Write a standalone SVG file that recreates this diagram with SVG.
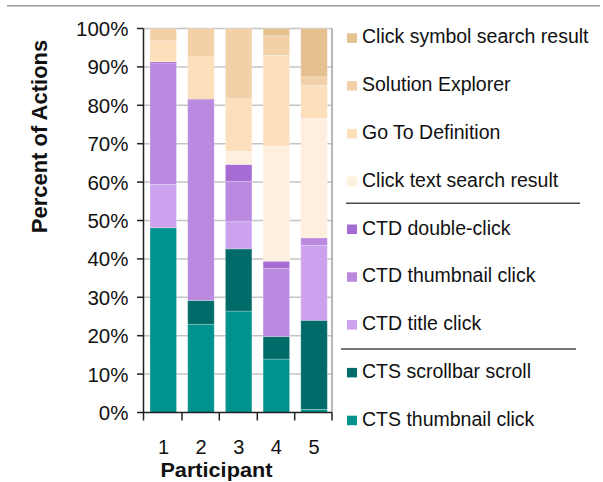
<svg xmlns="http://www.w3.org/2000/svg" width="603" height="482" viewBox="0 0 603 482">
<style>
text{font-family:"Liberation Sans",Arial,sans-serif;fill:#111}
.yl{font-size:20.5px;text-anchor:end}
.xl{font-size:20px;text-anchor:middle}
.lg{font-size:19.5px}
.grid{stroke:#C4C4C4;stroke-width:1.5}
.ax{stroke:#222;stroke-width:1.5}
.sep{stroke:#4a4a4a;stroke-width:1.5}
rect.s{stroke:#fff;stroke-opacity:0.3;stroke-width:0.8}
.c1{fill:#00928F}.c2{fill:#006B68}.c3{fill:#CCA2EE}.c4{fill:#B98AE0}.c5{fill:#A66CD4}
.c6{fill:#FEEFDF}.c7{fill:#FDDFBB}.c8{fill:#F2D1A8}.c9{fill:#E5C18F}
</style>
<rect width="603" height="482" fill="#fff"/>
<line x1="7" y1="5.7" x2="600" y2="5.7" stroke="#999" stroke-width="1.5"/>
<g id="grid">
<line class="grid" x1="143.5" y1="28.5" x2="332" y2="28.5"/>
<line class="grid" x1="143.5" y1="66.9" x2="332" y2="66.9"/>
<line class="grid" x1="143.5" y1="105.3" x2="332" y2="105.3"/>
<line class="grid" x1="143.5" y1="143.7" x2="332" y2="143.7"/>
<line class="grid" x1="143.5" y1="182.1" x2="332" y2="182.1"/>
<line class="grid" x1="143.5" y1="220.5" x2="332" y2="220.5"/>
<line class="grid" x1="143.5" y1="258.9" x2="332" y2="258.9"/>
<line class="grid" x1="143.5" y1="297.3" x2="332" y2="297.3"/>
<line class="grid" x1="143.5" y1="335.7" x2="332" y2="335.7"/>
<line class="grid" x1="143.5" y1="374.1" x2="332" y2="374.1"/>
<line x1="332" y1="28.5" x2="332" y2="412.5" stroke="#A0A0A0" stroke-width="1.5"/>
</g>
<g id="bar1">
<rect class="s c1" x="150" y="227.8" width="26.5" height="184.7"/>
<rect class="s c3" x="150" y="184.4" width="26.5" height="43.4"/>
<rect class="s c4" x="150" y="63.1" width="26.5" height="121.3"/>
<rect class="c5" x="150" y="61.9" width="26.5" height="1.2"/>
<rect class="s c7" x="150" y="40.8" width="26.5" height="21.1"/>
<rect class="s c8" x="150" y="28.5" width="26.5" height="12.3"/>
</g>
<g id="bar2">
<rect class="s c1" x="187.7" y="324.2" width="26.5" height="88.3"/>
<rect class="s c2" x="187.7" y="300.4" width="26.5" height="23.8"/>
<rect class="s c4" x="187.7" y="100.7" width="26.5" height="199.7"/>
<rect class="c5" x="187.7" y="99.2" width="26.5" height="1.5"/>
<rect class="s c7" x="187.7" y="56.9" width="26.5" height="42.3"/>
<rect class="s c8" x="187.7" y="28.5" width="26.5" height="28.4"/>
</g>
<g id="bar3">
<rect class="s c1" x="225.4" y="311.1" width="26.5" height="101.4"/>
<rect class="s c2" x="225.4" y="248.9" width="26.5" height="62.2"/>
<rect class="s c3" x="225.4" y="221.7" width="26.5" height="27.2"/>
<rect class="s c4" x="225.4" y="181.3" width="26.5" height="40.4"/>
<rect class="s c5" x="225.4" y="164.4" width="26.5" height="16.9"/>
<rect class="s c6" x="225.4" y="151.4" width="26.5" height="13"/>
<rect class="s c7" x="225.4" y="98.8" width="26.5" height="52.6"/>
<rect class="s c8" x="225.4" y="28.5" width="26.5" height="70.3"/>
</g>
<g id="bar4">
<rect class="s c1" x="263.1" y="359.1" width="26.5" height="53.4"/>
<rect class="s c2" x="263.1" y="336.5" width="26.5" height="22.6"/>
<rect class="s c4" x="263.1" y="268.5" width="26.5" height="68"/>
<rect class="s c5" x="263.1" y="261.2" width="26.5" height="7.3"/>
<rect class="s c6" x="263.1" y="146" width="26.5" height="115.2"/>
<rect class="s c7" x="263.1" y="55.4" width="26.5" height="90.6"/>
<rect class="s c8" x="263.1" y="35.8" width="26.5" height="19.6"/>
<rect class="s c9" x="263.1" y="28.5" width="26.5" height="7.3"/>
</g>
<g id="bar5">
<rect class="s c1" x="300.8" y="409.4" width="26.5" height="3.1"/>
<rect class="s c2" x="300.8" y="320.3" width="26.5" height="89.1"/>
<rect class="s c3" x="300.8" y="245.5" width="26.5" height="74.8"/>
<rect class="s c4" x="300.8" y="237.8" width="26.5" height="7.7"/>
<rect class="s c6" x="300.8" y="118.4" width="26.5" height="119.4"/>
<rect class="s c7" x="300.8" y="85.3" width="26.5" height="33.1"/>
<rect class="s c8" x="300.8" y="76.9" width="26.5" height="8.4"/>
<rect class="s c9" x="300.8" y="28.5" width="26.5" height="48.4"/>
</g>
<g id="axes">
<line class="ax" x1="143.5" y1="28.5" x2="143.5" y2="420.5"/>
<line class="ax" x1="137" y1="412.5" x2="332" y2="412.5"/>
<line class="ax" x1="137" y1="28.5" x2="143.5" y2="28.5"/>
<line class="ax" x1="137" y1="66.9" x2="143.5" y2="66.9"/>
<line class="ax" x1="137" y1="105.3" x2="143.5" y2="105.3"/>
<line class="ax" x1="137" y1="143.7" x2="143.5" y2="143.7"/>
<line class="ax" x1="137" y1="182.1" x2="143.5" y2="182.1"/>
<line class="ax" x1="137" y1="220.5" x2="143.5" y2="220.5"/>
<line class="ax" x1="137" y1="258.9" x2="143.5" y2="258.9"/>
<line class="ax" x1="137" y1="297.3" x2="143.5" y2="297.3"/>
<line class="ax" x1="137" y1="335.7" x2="143.5" y2="335.7"/>
<line class="ax" x1="137" y1="374.1" x2="143.5" y2="374.1"/>
<line class="ax" x1="182" y1="412.5" x2="182" y2="420.5"/>
<line class="ax" x1="219.3" y1="412.5" x2="219.3" y2="420.5"/>
<line class="ax" x1="257.3" y1="412.5" x2="257.3" y2="420.5"/>
<line class="ax" x1="294.7" y1="412.5" x2="294.7" y2="420.5"/>
<line class="ax" x1="332" y1="412.5" x2="332" y2="420.5"/>
</g>
<g id="ylabels">
<text class="yl" x="128.5" y="36">100%</text>
<text class="yl" x="128.5" y="74.4">90%</text>
<text class="yl" x="128.5" y="112.8">80%</text>
<text class="yl" x="128.5" y="151.2">70%</text>
<text class="yl" x="128.5" y="189.6">60%</text>
<text class="yl" x="128.5" y="228">50%</text>
<text class="yl" x="128.5" y="266.4">40%</text>
<text class="yl" x="128.5" y="304.8">30%</text>
<text class="yl" x="128.5" y="343.2">20%</text>
<text class="yl" x="128.5" y="381.6">10%</text>
<text class="yl" x="128.5" y="420">0%</text>
</g>
<g id="xlabels">
<text class="xl" x="163.5" y="454">1</text>
<text class="xl" x="201" y="454">2</text>
<text class="xl" x="238.7" y="454">3</text>
<text class="xl" x="276.4" y="454">4</text>
<text class="xl" x="314" y="454">5</text>
</g>
<text x="216.4" y="477" font-size="19.5" font-weight="bold" text-anchor="middle" textLength="112" lengthAdjust="spacingAndGlyphs">Participant</text>
<text transform="translate(47,136.5) rotate(-90)" font-size="22" font-weight="bold" text-anchor="middle">Percent of Actions</text>
<g id="legend">
<rect class="c9" x="347" y="33.3" width="10" height="9.5"/><text class="lg" x="362" y="43.3">Click symbol search result</text>
<rect class="c8" x="347" y="81.1" width="10" height="9.5"/><text class="lg" x="362" y="91.1">Solution Explorer</text>
<rect class="c7" x="347" y="128.9" width="10" height="9.5"/><text class="lg" x="362" y="138.9">Go To Definition</text>
<rect class="c6" x="347" y="176.7" width="10" height="9.5"/><text class="lg" x="362" y="186.7">Click text search result</text>
<line class="sep" x1="346" y1="203.3" x2="580" y2="203.3"/>
<rect class="c5" x="347" y="224.5" width="10" height="9.5"/><text class="lg" x="362" y="234.5">CTD double-click</text>
<rect class="c4" x="347" y="272.3" width="10" height="9.5"/><text class="lg" x="362" y="282.3">CTD thumbnail click</text>
<rect class="c3" x="347" y="320.1" width="10" height="9.5"/><text class="lg" x="362" y="330.1">CTD title click</text>
<line class="sep" x1="341" y1="349" x2="576" y2="349"/>
<rect class="c2" x="347" y="367.9" width="10" height="9.5"/><text class="lg" x="362" y="377.9">CTS scrollbar scroll</text>
<rect class="c1" x="347" y="415.7" width="10" height="9.5"/><text class="lg" x="362" y="425.7">CTS thumbnail click</text>
</g>
</svg>
